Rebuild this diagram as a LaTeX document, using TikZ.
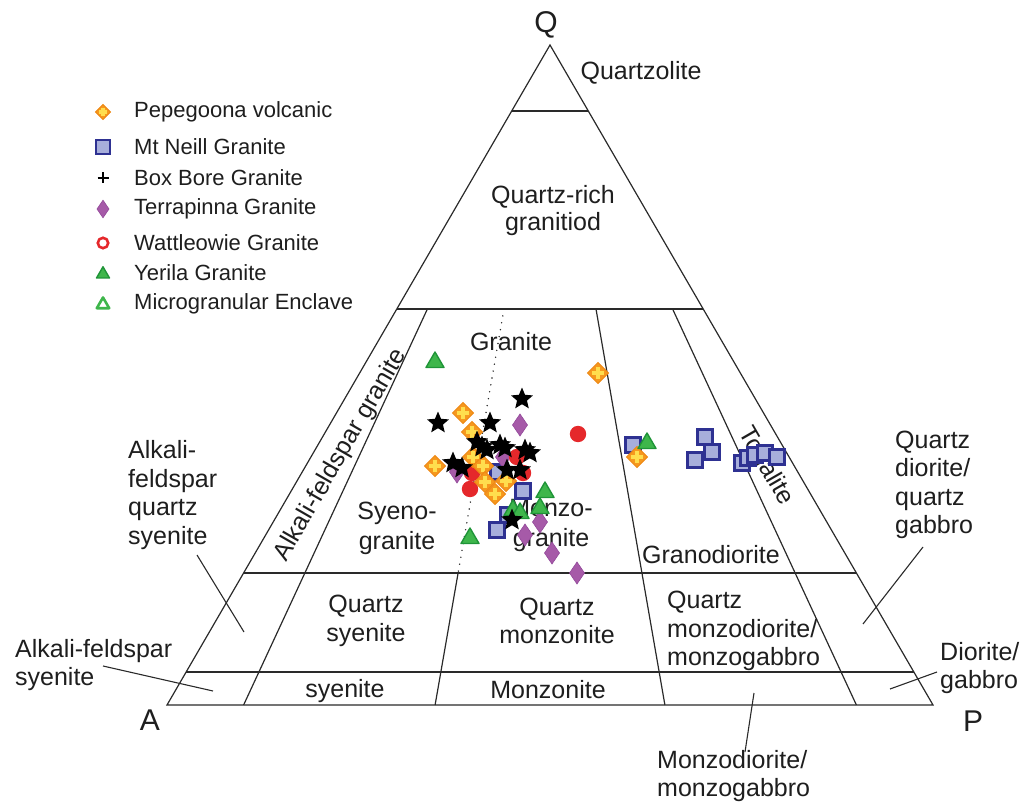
\documentclass[tikz,border=0pt]{standalone}
\usepackage{fontspec}
\setmainfont{Liberation Sans}
\usetikzlibrary{calc}
\definecolor{ink}{HTML}{2A2A2A}
\definecolor{txt}{HTML}{1E1E1E}
\definecolor{pepeor}{HTML}{F6981E}
\definecolor{pepeedge}{HTML}{EE8712}
\definecolor{pepeye}{HTML}{FFDE4E}
\definecolor{sqfill}{HTML}{A7AEDB}
\definecolor{sqedge}{HTML}{2E3192}
\definecolor{purp}{HTML}{A65AA8}
\definecolor{purpedge}{HTML}{93499A}
\definecolor{redc}{HTML}{E5282B}
\definecolor{grfill}{HTML}{3EB64B}
\definecolor{gredge}{HTML}{1F9438}
\tikzset{
  edge/.style={draw=ink, line width=1.2pt},
  dots/.style={draw=ink, line width=1.6pt, line cap=round, dash pattern=on 0pt off 7pt},
  leader/.style={draw=ink, line width=1.1pt},
  lbl/.style={font=\fontsize{25}{28.5}\selectfont, inner sep=0pt, text=txt},
  big/.style={font=\fontsize{30}{32}\selectfont, inner sep=0pt, text=txt},
  leg/.style={font=\fontsize{22}{24}\selectfont, inner sep=0pt, text=txt, anchor=west},
  mkpepe/.pic={
    \fill[pepeor, draw=pepeedge, line width=0.8pt] (0,-10.5)--(10.5,0)--(0,10.5)--(-10.5,0)--cycle;
    \draw[pepeye, line width=3.4pt] (-6,0)--(6,0) (0,-6)--(0,6);
  },
  mksq/.pic={
    \draw[fill=sqfill, draw=sqedge, line width=2.2pt] (-7.5,-7.5) rectangle (7.5,7.5);
  },
  mkstar/.pic={
    \fill[black] (-90:11.5)--(-54:5.2)--(-18:11.5)--(18:5.2)--(54:11.5)--(90:5.2)--(126:11.5)--(162:5.2)--(198:11.5)--(234:5.2)--cycle;
  },
  mkplus/.pic={
    \draw[black, line width=2.6pt] (-5.5,0)--(5.5,0) (0,-5.5)--(0,5.5);
  },
  mkpurp/.pic={
    \fill[purp, draw=purpedge, line width=0.6pt] (0,-11)--(7.5,0)--(0,11)--(-7.5,0)--cycle;
  },
  mkred/.pic={
    \fill[redc] (0,0) circle (8.2);
  },
  mkredo/.pic={
    \draw[redc, line width=2.6pt] (0,0) circle (5.2);
  },
  mkgreen/.pic={
    \fill[grfill, draw=gredge, line width=1.4pt, line join=round] (0,-10)--(9,5.5)--(-9,5.5)--cycle;
  },
  mkgreeno/.pic={
    \draw[grfill, line width=2.6pt, line join=round] (0,-6.5)--(6.2,4.2)--(-6.2,4.2)--cycle;
  },
}
\begin{document}
\begin{tikzpicture}[x=1pt,y=-1pt]
\useasboundingbox (0,0) rectangle (1026,805);
% ---- triangle vertices and field boundaries ----
\coordinate (Q) at (550,45);
\coordinate (A) at (167,705);
\coordinate (P) at (933,705);
\coordinate (q90l) at (511.7,111);  \coordinate (q90r) at (588.3,111);
\coordinate (q60l) at (396.8,309);  \coordinate (q60r) at (703.2,309);
\coordinate (q20l) at (243.6,573);  \coordinate (q20r) at (856.4,573);
\coordinate (q05l) at (186.2,672);  \coordinate (q05r) at (913.8,672);
\coordinate (r10t) at (427.4,309);  \coordinate (r10b) at (243.6,705);
\coordinate (r35t) at (504.0,309);  \coordinate (r35m) at (458.1,573);  \coordinate (r35b) at (435.1,705);
\coordinate (r65t) at (596.0,309);  \coordinate (r65b) at (664.9,705);
\coordinate (r90t) at (672.6,309);  \coordinate (r90b) at (856.4,705);

\draw[edge, line join=miter] (A) -- (Q) -- (P) -- cycle;
\draw[edge] (q90l) -- (q90r);
\draw[edge] (q60l) -- (q60r);
\draw[edge] (q20l) -- (q20r);
\draw[edge] (q05l) -- (q05r);
\draw[edge] (r10t) -- (r10b);
\draw[dots] (r35t) -- (r35m);
\draw[edge] (r35m) -- (r35b);
\draw[edge] (r65t) -- (r65b);
\draw[edge] (r90t) -- (r90b);

% ---- corner labels ----
\node[big] (lq) at (546,25) {Q};
\node[big] (la) at (150,720) {A};
\node[big] (lp) at (973,721) {P};

% ---- field labels ----
\node[lbl] (quartzolite) at (641,73) {Quartzolite};
\node[lbl, align=center, font=\fontsize{25}{27}\selectfont] (qrich) at (553,211) {Quartz-rich\\granitiod};
\node[lbl] (granite) at (511,342) {Granite};
\node[lbl, rotate=60] (afgran) at (341,455) {Alkali-feldspar granite};
\node[lbl, align=center, font=\fontsize{25}{30}\selectfont] (syeno) at (397,528) {Syeno-\\granite};
\node[lbl, align=center, font=\fontsize{25}{30}\selectfont] (monzo) at (551,525) {Monzo-\\granite};
\node[lbl] (granod) at (711,555) {Granodiorite};
\node[lbl, rotate=-60] (tonal) at (768,465) {Tonalite};
\node[lbl, align=center] (qsy) at (366,621) {Quartz\\syenite};
\node[lbl, align=center] (qmz) at (557,621) {Quartz\\monzonite};
\node[lbl, align=left, anchor=west] (qmzd) at (667,631) {Quartz\\monzodiorite/\\monzogabbro};
\node[lbl] (sy) at (345,691) {syenite};
\node[lbl] (mz) at (548,690) {Monzonite};

% ---- outside labels with leaders ----
\node[lbl, align=left, anchor=west] (afqs) at (128,495) {Alkali-\\feldspar\\quartz\\syenite};
\node[lbl, align=left, anchor=west] (afs) at (15,665) {Alkali-feldspar\\syenite};
\node[lbl, align=left, anchor=west] (qdg) at (895,485) {Quartz\\diorite/\\quartz\\gabbro};
\node[lbl, align=left, anchor=west] (dg) at (940,668) {Diorite/\\gabbro};
\node[lbl, align=left, anchor=west] (mdg) at (657,776) {Monzodiorite/\\monzogabbro};

\coordinate (afqs1) at (197,555); \coordinate (afqs2) at (244,632);
\coordinate (afs1) at (103,666);  \coordinate (afs2) at (213,691);
\coordinate (qdg1) at (923,547);  \coordinate (qdg2) at (863,624);
\coordinate (dg1) at (937,672);   \coordinate (dg2) at (890,689);
\coordinate (mdg1) at (754,693);  \coordinate (mdg2) at (745,752);
\draw[leader] (afqs1) -- (afqs2);
\draw[leader] (afs1) -- (afs2);
\draw[leader] (qdg1) -- (qdg2);
\draw[leader] (dg1) -- (dg2);
\draw[leader] (mdg1) -- (mdg2);

% ---- legend ----
\pic[scale=0.72] at (103,112) {mkpepe};
\pic[scale=0.9] at (103,147) {mksq};
\pic at (103,178) {mkplus};
\pic[scale=0.8] at (103,209) {mkpurp};
\pic at (103,243) {mkredo};
\pic[scale=0.72] at (103,274) {mkgreen};
\pic at (103,304) {mkgreeno};
\node[leg] (l1) at (134,112) {Pepegoona volcanic};
\node[leg] (l2) at (134,147) {Mt Neill Granite};
\node[leg] (l3) at (134,178) {Box Bore Granite};
\node[leg] (l4) at (134,209) {Terrapinna Granite};
\node[leg] (l5) at (134,243) {Wattleowie Granite};
\node[leg] (l6) at (134,273) {Yerila Granite};
\node[leg] (l7) at (134,304) {Microgranular Enclave};

% ---- data: Mt Neill Granite ----
\foreach \x/\y in {498/472, 523/491, 508/515, 497/530, 633/445, 705/437, 712/452, 695/460, 742/463, 748/458, 755/455, 765/453, 777/457}
  \pic at (\x,\y) {mksq};
% ---- data: Terrapinna Granite ----
\foreach \x/\y in {520/425, 503/457, 457/472, 540/522, 525/535, 552/553, 577/573}
  \pic at (\x,\y) {mkpurp};
% ---- data: Wattleowie Granite ----
\foreach \x/\y in {578/434, 517/457, 472/473, 470/489, 523/473}
  \pic at (\x,\y) {mkred};
% ---- data: Pepegoona volcanic ----
\foreach \x/\y in {598/373, 463/413, 472/432, 435/466, 473/457, 483/466, 485/482, 495/494, 506/481, 637/457}
  \pic at (\x,\y) {mkpepe};
% ---- data: Yerila Granite ----
\foreach \x/\y in {435/362, 545/492, 513/510, 520/513, 540/508, 470/538, 647/443}
  \pic at (\x,\y) {mkgreen};
% ---- data: Box Bore Granite ----
\foreach \x/\y in {522/399, 438/423, 490/423, 477/442, 482/447, 487/450, 500/445, 505/448, 525/450, 530/453, 453/463, 462/468, 507/470, 520/470, 512/520}
  \pic at (\x,\y) {mkstar};
\end{tikzpicture}
\end{document}
